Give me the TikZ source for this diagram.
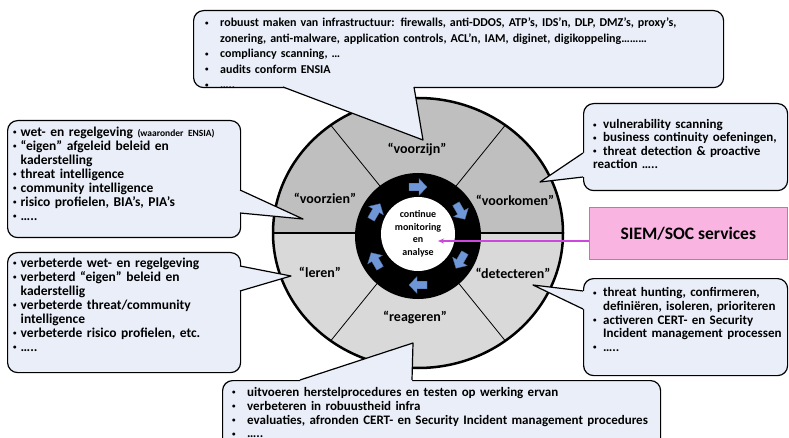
\documentclass[tikz,border=0pt]{standalone}
\usepackage{fontspec}
\setmainfont{Carlito}
\usetikzlibrary{calc,arrows.meta}
\definecolor{callfill}{RGB}{233,238,248}
\definecolor{upgray}{RGB}{191,191,191}
\definecolor{lowgray}{RGB}{217,217,217}
\definecolor{ringblue}{RGB}{111,150,214}
\definecolor{siempink}{RGB}{249,180,225}
\definecolor{siemedge}{RGB}{130,145,190}
\definecolor{feedarrow}{RGB}{204,72,220}
\newlength\bulind
\newcommand\bul{\par\noindent\hangindent=\bulind\hangafter=1%
  \makebox[\bulind][l]{\raisebox{.12em}{\fontsize{7}{7}\selectfont\textbullet}}}
% pointer of a callout: base, tip, base, inward shift
\newcommand\callptr[4]{%
  \fill[callfill] (#1) -- (#2) -- (#3) -- ($(#3)+(#4)$) -- ($(#1)+(#4)$) -- cycle;
  \draw[callline] (#1) -- (#2) -- (#3);}

\begin{document}
\begin{tikzpicture}[x=1pt,y=1pt,font=\bfseries,
    callbox/.style={draw=black,line width=1.2pt,fill=callfill,rounded corners=10pt,inner sep=0pt,anchor=north west},
    callline/.style={black,line width=1.2pt,line join=round},
    calltext/.style={anchor=north west,align=left,inner sep=0pt,font=\fontsize{13.5}{14}\selectfont\bfseries},
    phase/.style={font=\fontsize{14}{16}\selectfont\bfseries},
    ringarrow/.pic={\filldraw[fill=ringblue,draw=ringblue!70!black,line width=.3pt]
      (-9,-3.8) -- (1,-3.8) -- (1,-8.5) -- (9,0) -- (1,8.5) -- (1,3.8) -- (-9,3.8) -- cycle;}]
  \useasboundingbox (0,0) rectangle (789,-438);
  \clip (0,0) rectangle (789,-438);

  % the cycle
  \coordinate (ctr) at (418,-233);
  \fill[upgray] (ctr) ++(145,0) arc[start angle=0,end angle=180,x radius=145,y radius=135] -- cycle;
  \fill[lowgray] (ctr) ++(-145,0) arc[start angle=180,end angle=360,x radius=145,y radius=135] -- cycle;
  \foreach \t in {53,127,233,307}
    \draw[line width=.8pt] (ctr) -- ($(ctr)+({145*cos(\t)},{135*sin(\t)})$);
  \draw[line width=2pt] (ctr) ++(-145,0) -- ++(290,0);
  \draw[line width=2.5pt] (ctr) ellipse[x radius=145,y radius=135];

  \node[circle,fill=black,minimum size=126pt,inner sep=0pt] (ring) at (418,-236) {};
  \node[circle,fill=white,minimum size=74pt,inner sep=0pt,align=center,
    font=\fontsize{10}{12.5}\selectfont\bfseries] (core) at (418,-234) {continue\\monitoring\\en\\analyse};
  \foreach \a in {90,30,-30,-90,-150,150}
    \pic[rotate=\a-90] at ($(ring)+(\a:49)$) {ringarrow};

  \node[phase] (voorzijn) at (417,-150) {“voorzijn”};
  \node[phase] (voorzien) at (325,-198) {“voorzien”};
  \node[phase] (voorkomen) at (515,-200) {“voorkomen”};
  \node[phase] (leren) at (320,-272) {“leren”};
  \node[phase] (detecteren) at (513,-273) {“detecteren”};
  \node[phase] (reageren) at (415,-318) {“reageren”};

  % SIEM
  \node[draw=siemedge,fill=siempink,line width=.6pt,minimum width=198pt,minimum height=52pt,
    anchor=north west,font=\fontsize{17.5}{20}\selectfont\bfseries] (siem) at (589,-207) {SIEM/SOC services};
  \coordinate (feedin) at (438,-241);
  \draw[feedarrow,line width=1.5pt,-{Stealth[length=6pt,width=5pt]}] (siem.west |- feedin) -- (feedin);

  % callouts
  \node[callbox,minimum width=530pt,minimum height=77pt] (topbox) at (193,-10) {};
  \callptr{283,-87}{423,-140}{414,-87}{0,2}
  \node[calltext,text width=515pt,font=\fontsize{12}{15.5}\selectfont\bfseries] (toptext) at (205,-11) {\setlength\bulind{15pt}%
    \bul robuust maken van infrastructuur: firewalls, anti-DDOS, ATP’s, IDS’n, DLP, DMZ’s, proxy’s,\break
    zonering, anti-malware, application controls, ACL’n, IAM, diginet, digikoppeling………
    \bul compliancy scanning, …
    \bul audits conform ENSIA
    \bul …..};

  \node[callbox,minimum width=233pt,minimum height=117pt] (wetbox) at (7,-120) {};
  \callptr{240,-190}{303,-219}{240,-213}{-2,0}
  \node[calltext,text width=228pt] (wettext) at (13,-122) {\setlength\bulind{7.5pt}%
    \bul wet- en regelgeving {\fontsize{9.5}{14}\selectfont(waaronder ENSIA)}
    \bul “eigen” afgeleid beleid en\break kaderstelling
    \bul threat intelligence
    \bul community intelligence
    \bul risico profielen, BIA’s, PIA’s
    \bul …..};

  \node[callbox,minimum width=233pt,minimum height=120pt] (lerenbox) at (7,-252) {};
  \callptr{240,-266}{291,-276}{240,-291}{-2,0}
  \node[calltext,text width=228pt] (lerentext) at (13,-253) {\setlength\bulind{7.5pt}%
    \bul verbeterde wet- en regelgeving
    \bul verbeterd “eigen” beleid en\break kaderstellig
    \bul verbeterde threat/community\break intelligence
    \bul verbeterde risico profielen, etc.
    \bul …..};

  \node[callbox,minimum width=204pt,minimum height=87pt] (komenbox) at (583,-103) {};
  \callptr{583,-153}{540,-182}{583,-177}{2,0}
  \node[calltext,text width=192pt,font=\fontsize{13}{13.4}\selectfont\bfseries] (komentext) at (593,-115) {\setlength\bulind{10pt}%
    \bul vulnerability scanning
    \bul business continuity oefeningen,
    \bul threat detection \& proactive\break reaction …..};

  \node[callbox,minimum width=204pt,minimum height=97pt] (detbox) at (583,-278) {};
  \callptr{583,-291}{533,-285}{583,-309}{2,0}
  \node[calltext,text width=192pt,font=\fontsize{13}{13.6}\selectfont\bfseries] (dettext) at (593,-283) {\setlength\bulind{10pt}%
    \bul threat hunting, confirmeren,\break definiëren, isoleren, prioriteren
    \bul activeren CERT- en Security\break Incident management processen
    \bul …..};

  \node[callbox,minimum width=438pt,minimum height=100pt] (reabox) at (222,-380) {};
  \callptr{300,-380}{413,-343}{412,-380}{0,-2}
  \node[calltext,text width=425pt,font=\fontsize{13}{13.8}\selectfont\bfseries] (reatext) at (232,-382.5) {\setlength\bulind{15pt}%
    \bul uitvoeren herstelprocedures en testen op werking ervan
    \bul verbeteren in robuustheid infra
    \bul evaluaties, afronden CERT- en Security Incident management procedures
    \bul …..};
\end{tikzpicture}
\end{document}
